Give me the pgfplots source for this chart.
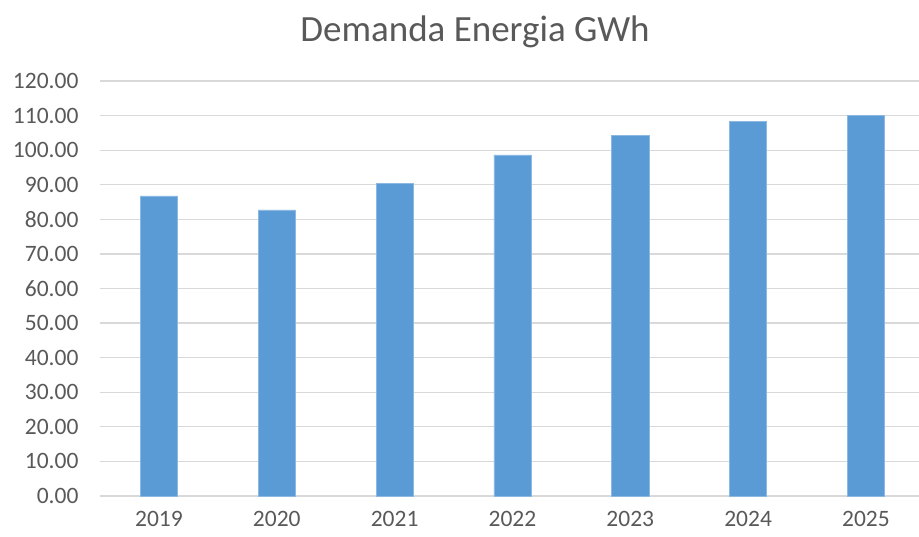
\documentclass[border=0pt]{standalone}
\usepackage{pgfplots}
\pgfplotsset{compat=1.18}
\usepackage{fontspec}
\setmainfont{Carlito}
\definecolor{barblue}{HTML}{5B9BD5}
\definecolor{txtgray}{HTML}{595959}
\definecolor{gridgray}{HTML}{D9D9D9}
\begin{document}
\begin{tikzpicture}[x=1pt,y=1pt]
\path[use as bounding box] (0,0) rectangle (919,537);
\node[text=txtgray,font=\fontsize{37}{40}\selectfont] at (475,505) {Demanda Energia GWh};
\begin{axis}[
  at={(100pt,41pt)}, anchor=south west,
  width=819pt, height=415pt, scale only axis,
  xmin=-0.5, xmax=6.45, ymin=0, ymax=120,
  ytick={0,10,...,120},
  xtick={0,1,2,3,4,5,6},
  xticklabels={2019,2020,2021,2022,2023,2024,2025},
  ymajorgrids, major grid style={gridgray, line width=1.3pt},
  axis line style={draw=none},
  major tick length=0pt,
  tick style={draw=none},
  /pgf/number format/.cd, fixed, fixed zerofill, precision=2, assume math mode=true, /pgfplots/.cd,
  ticklabel style={text=txtgray, font=\fontsize{23.5}{26}\selectfont},
  xticklabel style={yshift=-15pt, inner sep=0pt},
  yticklabel style={xshift=-18pt},
  clip=false,
]
\draw[gridgray, line width=1.3pt] (axis cs:-0.5,0) -- (axis cs:6.45,0);
\addplot[ybar, bar width=0.315, fill=barblue, draw=barblue!70!white, line width=0.6pt] coordinates {
(0,86.8) (1,82.75) (2,90.4) (3,98.6) (4,104.2) (5,108.3) (6,110.0)
};
\end{axis}
\end{tikzpicture}
\end{document}
